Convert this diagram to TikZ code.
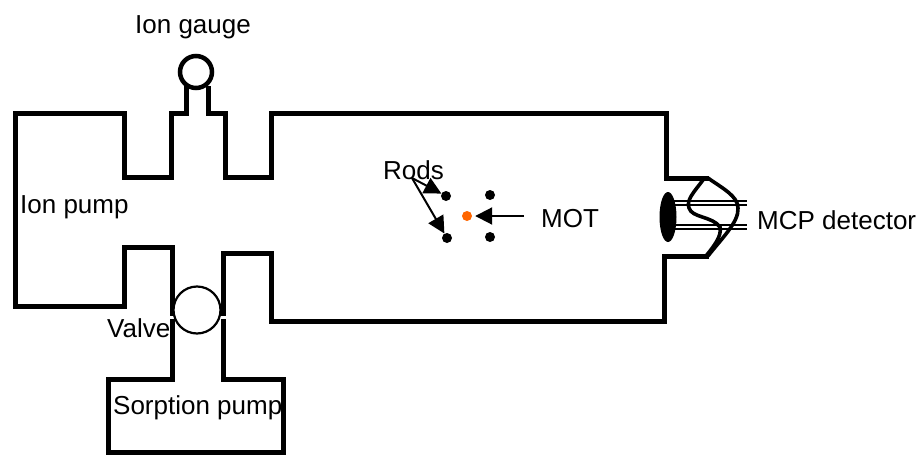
\documentclass[tikz,border=0pt]{standalone}
\usepackage{fontspec}
\setmainfont{Liberation Sans}
\usetikzlibrary{arrows.meta,shapes.geometric}
\tikzset{
  wall/.style={line width=5pt,line join=miter,line cap=butt},
  lbl/.style={font=\fontsize{26}{30}\selectfont,inner sep=0pt,anchor=base west,text=black},
  dot/.style={circle,fill=black,inner sep=0pt,minimum size=10pt},
  pointer/.style={line width=2pt,-{Triangle[length=17pt,width=17pt]}},
  curvy/.style={line width=3.6pt,line cap=round}
}
\begin{document}
\begin{tikzpicture}[x=1pt,y=-1pt]
\useasboundingbox (0,0) rectangle (924,455);
% chamber outline
\draw[wall] (186,113) -- (171,113) -- (171,177) -- (124,177) -- (124,113) -- (15,113) -- (15,306) -- (124,306) -- (124,247) -- (172,247) -- (172,316);
\draw[wall] (186,115.5) -- (186,86);
\draw[wall] (208,86) -- (208,113) -- (225,113) -- (225,177) -- (271,177) -- (271,113) -- (666,113) -- (666,178) -- (709,178);
\draw[wall] (709,256) -- (664,256) -- (664,321) -- (271,321) -- (271,253) -- (223,253) -- (223,316);
% sorption pump
\draw[wall] (172,319) -- (172,379) -- (108,379) -- (108,452) -- (283,452) -- (283,379) -- (223,379) -- (223,319);
% gauge and valve
\node[circle,draw,fill=white,line width=4.5pt,minimum size=32pt,inner sep=0pt] (gauge) at (196,72) {};
\node[circle,draw,fill=white,line width=2.2pt,minimum size=47pt,inner sep=0pt] (valve) at (197,310) {};
% detector
\node[ellipse,fill=black,minimum width=17pt,minimum height=50pt,inner sep=0pt] (mcp) at (668,217) {};
\foreach \y in {201,205,225,229}{\draw[line width=1.3pt] (674,\y) -- (747,\y);}
\draw[curvy] (708,178) .. controls (722,188) and (738,196) .. (738,208) .. controls (739,222) and (722,238) .. (708,256);
\draw[curvy] (703,180) .. controls (694,192) and (686,200) .. (689,208) .. controls (692,218) and (712,216) .. (720,227) .. controls (722,236) and (714,246) .. (706,256);
% rods and MOT
\node[dot] (r1) at (446,196) {};
\node[dot] (r2) at (490,195) {};
\node[dot] (r3) at (447,238) {};
\node[dot] (r4) at (490,237) {};
\node[circle,fill={rgb,255:red,255;green,102;blue,0},inner sep=0pt,minimum size=10pt] (mot) at (467,216) {};
\coordinate (rodsfoot) at (412,178);
\coordinate (motfoot) at (524,216);
\draw[pointer] (rodsfoot) -- (r1);
\draw[pointer] (rodsfoot) -- (r3);
\draw[pointer,shorten >=3pt] (motfoot) -- (mot);
% labels
\node[lbl] (lgauge) at (135,33) {Ion gauge};
\node[lbl] (lpump) at (20,213) {Ion pump};
\node[lbl] (lrods) at (383,179) {Rods};
\node[lbl] (lmot) at (541,227) {MOT};
\node[lbl] (lmcp) at (757,229) {MCP detector};
\node[lbl] (lvalve) at (107,337) {Valve};
\node[lbl] (lsorp) at (113,414) {Sorption pump};
\end{tikzpicture}
\end{document}
